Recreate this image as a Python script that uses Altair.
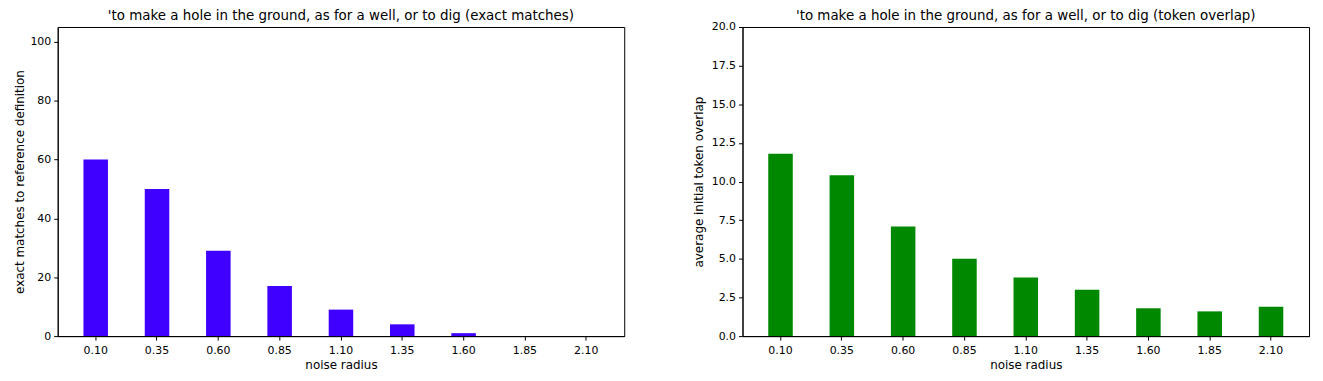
import altair as alt
import pandas as pd

radii = ["0.10", "0.35", "0.60", "0.85", "1.10", "1.35", "1.60", "1.85", "2.10"]
exact_matches = [60, 50, 29, 17, 9, 4, 1, 0, 0]
token_overlap = [11.8, 10.4, 7.1, 5.0, 3.8, 3.0, 1.8, 1.6, 1.9]

left_title = "'to make a hole in the ground, as for a well, or to dig (exact matches)"
right_title = "'to make a hole in the ground, as for a well, or to dig (token overlap)"

df_left = pd.DataFrame({"radius": radii, "value": exact_matches})
df_right = pd.DataFrame({"radius": radii, "value": token_overlap})

FONT = "DejaVu Sans"
W, H = 570, 311

def xenc():
    return alt.X(
        "radius:N",
        sort=radii,
        title="noise radius",
        scale=alt.Scale(paddingInner=0.6, paddingOuter=0.42),
        axis=alt.Axis(labelAngle=0, tickSize=4, labelPadding=4, titlePadding=5),
    )

def title(t, off):
    return alt.TitleParams(t, fontSize=13.5, font=FONT, fontWeight="normal", offset=off,
                           frame="group", color="#000000")

left = (
    alt.Chart(df_left, title=title(left_title, 5))
    .mark_bar(color="#4000ff")
    .encode(
        x=xenc(),
        y=alt.Y(
            "value:Q",
            title="exact matches to reference definition",
            scale=alt.Scale(domain=[0, 105], nice=False),
            axis=alt.Axis(values=[0, 20, 40, 60, 80, 100], tickSize=4, labelPadding=3, titlePadding=3),
        ),
    )
    .properties(width=W, height=H)
)

right = (
    alt.Chart(df_right, title=title(right_title, -1))
    .mark_bar(color="#008800")
    .encode(
        x=xenc(),
        y=alt.Y(
            "value:Q",
            title="average initial token overlap",
            scale=alt.Scale(domain=[0, 20], nice=False),
            axis=alt.Axis(values=[0, 2.5, 5, 7.5, 10, 12.5, 15, 17.5, 20], format=".1f",
                          tickSize=4, labelPadding=3, titlePadding=6),
        ),
    )
    .properties(width=W, height=H)
)

chart = (
    alt.hconcat(left, right, spacing=67)
    .configure_view(stroke="#000000", strokeWidth=1)
    .configure_axis(
        grid=False,
        domainColor="#000000",
        tickColor="#000000",
        labelFont=FONT,
        titleFont=FONT,
        labelFontSize=11,
        titleFontSize=12,
        titleFontWeight="normal",
        labelColor="#000000",
        titleColor="#000000",
    )
    .properties(padding={"left": 5, "top": -1, "right": 5, "bottom": 0})
)

chart.save("out.html", embed_options={"renderer": "svg", "actions": False})
